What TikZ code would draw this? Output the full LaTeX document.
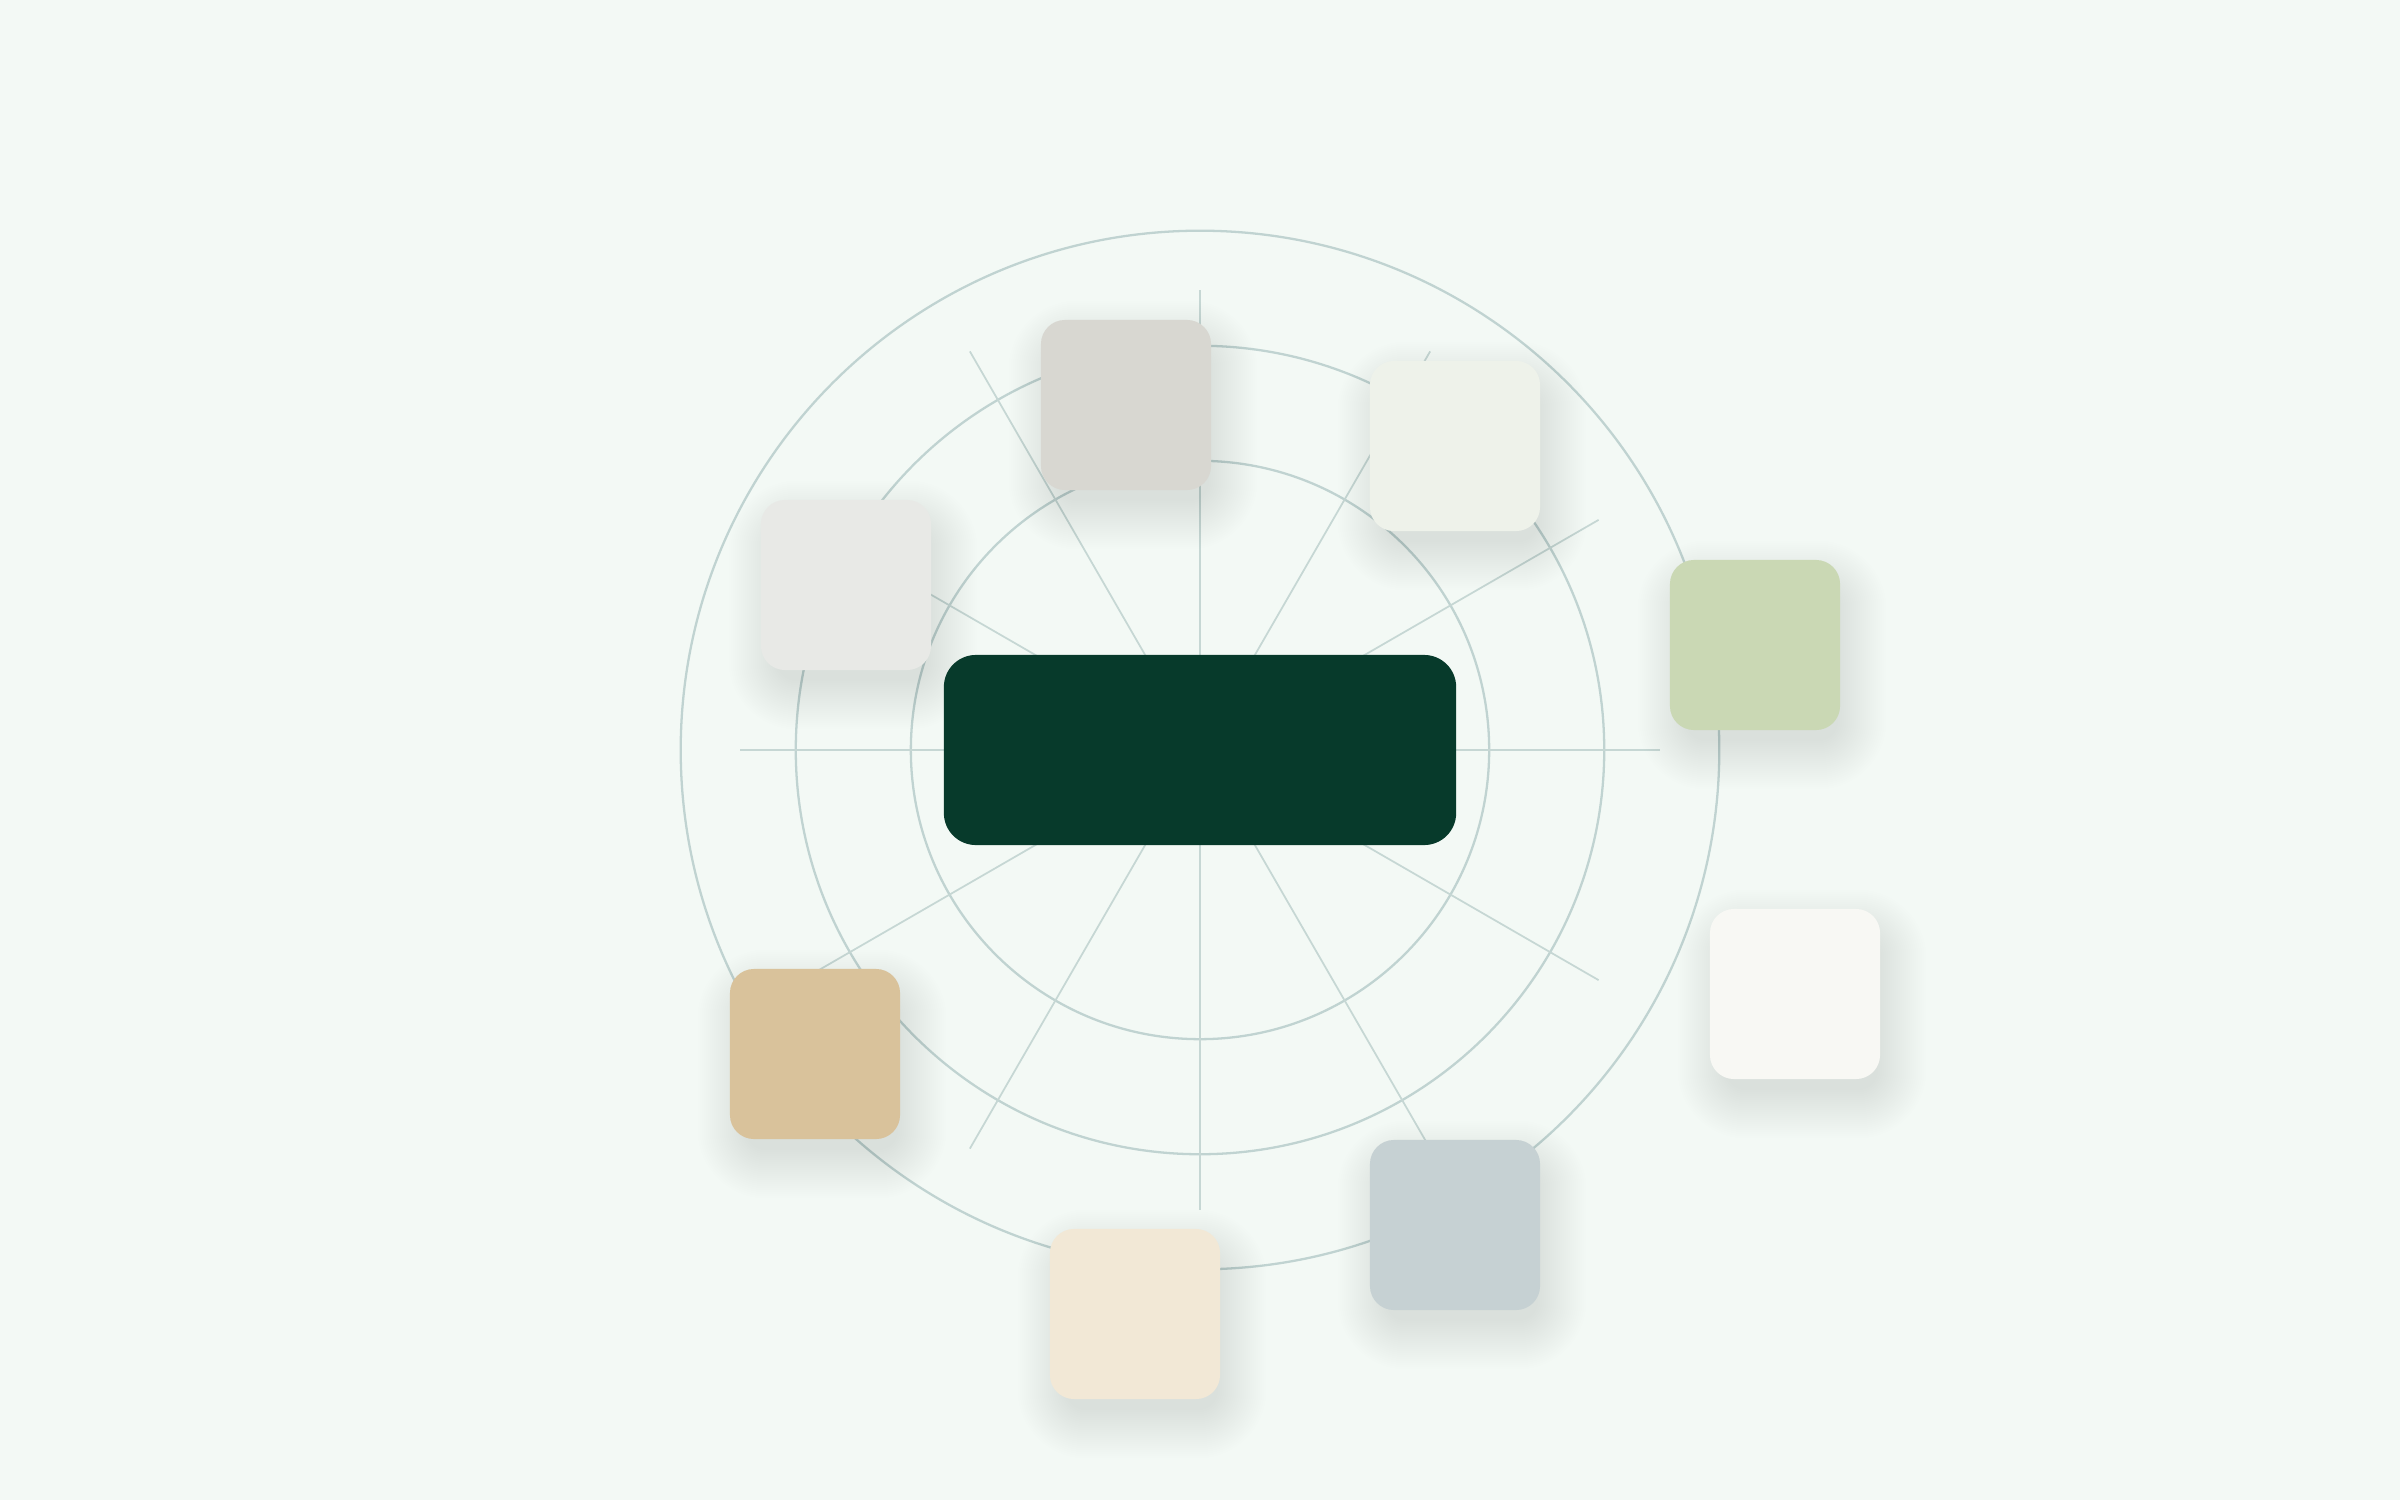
\documentclass[tikz,border=0pt]{standalone}
\definecolor{bg}{HTML}{F3F9F5}
\definecolor{ring}{HTML}{C0D3D1}
\definecolor{spoke}{HTML}{C6D7D4}
\definecolor{hub}{HTML}{073A2B}
\definecolor{shd}{HTML}{7E9692}
\definecolor{cA}{HTML}{D8D7D1}
\definecolor{cB}{HTML}{EEF2EA}
\definecolor{cC}{HTML}{CAD8B4}
\definecolor{cD}{HTML}{F8F8F4}
\definecolor{cE}{HTML}{C6D1D3}
\definecolor{cF}{HTML}{F2E8D6}
\definecolor{cG}{HTML}{D9C29B}
\definecolor{cH}{HTML}{E8E9E6}
\tikzset{
  ringline/.style={draw=ring, line width=0.65pt},
  spokeline/.style={draw=spoke, line width=0.5pt},
  tile/.style={rectangle, rounded corners=0.24cm, minimum width=1.7cm, minimum height=1.7cm, inner sep=0pt},
  hubbox/.style={rectangle, rounded corners=0.32cm, minimum width=5.12cm, minimum height=1.9cm, inner sep=0pt, fill=hub},
  shadowlayer/.style={fill=shd, fill opacity=0.007}
}
\begin{document}
\begin{tikzpicture}[x=0.01cm,y=-0.01cm]
\useasboundingbox (0,0) rectangle (2400,1500);
\fill[bg] (0,0) rectangle (2400,1500);
\coordinate (c) at (1200,750);
\coordinate (p1) at (1126,405);
\coordinate (p2) at (1455,446);
\coordinate (p3) at (1755,645);
\coordinate (p4) at (1795,994);
\coordinate (p5) at (1455,1225);
\coordinate (p6) at (1135,1314);
\coordinate (p7) at (815,1054);
\coordinate (p8) at (846,585);
\draw[ringline] (c) circle[radius=5.19cm];
\draw[ringline] (c) circle[radius=4.04cm];
\draw[ringline] (c) circle[radius=2.89cm];
\foreach \a in {0,30,...,330}{
  \draw[spokeline] (c) -- ++(\a:4.6cm);
}
\foreach \p in {p1,p2,p3,p4,p5,p6,p7,p8}{
  \foreach \i in {0,...,24}{
    \pgfmathsetmacro\hw{0.76+0.02*\i}
    \pgfmathsetmacro\rr{0.2+0.02*\i}
    \fill[shadowlayer, rounded corners=\rr cm]
      ([xshift=-\hw cm+0.07cm, yshift=-\hw cm-0.2cm]\p) rectangle
      ([xshift=\hw cm+0.07cm, yshift=\hw cm-0.2cm]\p);
  }
}
\node[tile, fill=cA] (t1) at (p1) {};
\node[tile, fill=cB] (t2) at (p2) {};
\node[tile, fill=cC] (t3) at (p3) {};
\node[tile, fill=cD] (t4) at (p4) {};
\node[tile, fill=cE] (t5) at (p5) {};
\node[tile, fill=cF] (t6) at (p6) {};
\node[tile, fill=cG] (t7) at (p7) {};
\node[tile, fill=cH] (t8) at (p8) {};
\node[hubbox] (hub) at (c) {};
\end{tikzpicture}
\end{document}
